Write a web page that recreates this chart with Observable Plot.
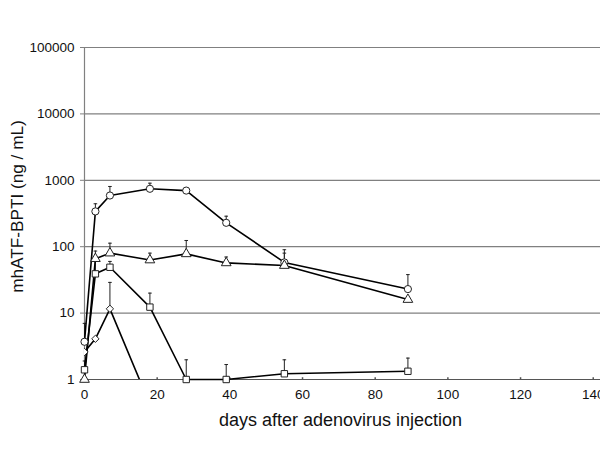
<!DOCTYPE html>
<html>
<head>
<meta charset="utf-8">
<script src="https://cdn.jsdelivr.net/npm/d3@7"></script>
<script src="https://cdn.jsdelivr.net/npm/@observablehq/plot@0.6"></script>
<style>
  html, body { margin: 0; padding: 0; background: #fff; overflow: hidden; }
  #chart { width: 600px; height: 449px; overflow: hidden; }
</style>
</head>
<body>
<div id="chart"></div>
<script>
// ---- data ----
const days = [0, 3, 7, 18, 28, 39, 55, 89];
const circleVals = [3.7, 340, 590, 745, 700, 229, 58, 23];
const circleErr  = [7, 443, 807, 905, 760, 288, 90, 38];
const triangleVals = [1, 66, 80, 63, 78, 57, 52, 16];
const triangleErr  = [1.5, 86, 113, 80, 124, 70, 80, null];
const squareVals = [1.4, 39, 49, 12.3, 1, 1, 1.22, 1.33];
const squareErr  = [1.9, 60, 60, 20, 1.98, 1.68, 1.98, 2.1];
const diamondDays = [0, 3, 7, 18];
const diamondVals = [2.6, 4.1, 11.6, 0.42];
const diamondErr  = [null, null, 29, null];

const xTicks = [0, 20, 40, 60, 80, 100, 120, 140];
const yTicks = [1, 10, 100, 1000, 10000, 100000];
const xLabel = "days after adenovirus injection";
const yLabel = "mhATF-BPTI (ng / mL)";

// ---- build tables ----
function series(name, symbol, xs, vals, errs) {
  return xs.map((x, i) => ({series: name, symbol, x, y: vals[i], err: errs[i]}));
}
const circles = series("circle", "circle", days, circleVals, circleErr);
const triangles = series("triangle", "triangle", days, triangleVals, triangleErr);
const squares = series("square", "square", days, squareVals, squareErr);
const diamonds = series("diamond", "diamond2", diamondDays, diamondVals, diamondErr);
const mainPts = [...circles, ...triangles, ...squares];
const allPts = [...mainPts, ...diamonds];
const errPts = allPts.filter(d => d.err != null && d.y >= 1);

const hline = {draw(ctx, size) { const r = Math.sqrt(size / Math.PI); ctx.moveTo(-r, 0); ctx.lineTo(r, 0); }};
const vtick = {draw(ctx, size) { const r = Math.sqrt(size / Math.PI); ctx.moveTo(0, 0); ctx.lineTo(0, -r); }};

const font = "'Liberation Sans', Arial, Helvetica, sans-serif";

const chart = Plot.plot({
  width: 600,
  height: 449,
  marginLeft: 84,
  marginRight: 0,
  marginTop: 47,
  marginBottom: 70,
  style: {fontFamily: font, background: "#fff", overflow: "hidden"},
  x: {domain: [0, 142], ticks: xTicks},
  y: {type: "log", domain: [1, 100000], ticks: yTicks},
  marks: [
    Plot.gridY(yTicks, {stroke: "#808080", strokeOpacity: 1, strokeWidth: 1.2}),
    Plot.ruleX([0], {stroke: "#808080", strokeWidth: 1.2}),
    Plot.ruleY([1], {stroke: "#555", strokeWidth: 1.2}),
    Plot.axisY({ticks: yTicks, tickFormat: d => String(d), tickSize: 4, tickPadding: 6,
      fontSize: 13.5, color: "#111", stroke: "#808080", label: null}),
    Plot.axisX({ticks: xTicks, tickFormat: d => String(d), tickSize: 0, tickPadding: 10,
      fontSize: 13.5, color: "#111", label: null}),
    Plot.dot(xTicks.slice(1), {x: d => d, y: () => 1, symbol: vtick, r: 2.3, stroke: "#555"}),
    // error bars
    Plot.ruleX(errPts, {x: "x", y1: "y", y2: "err", stroke: "#222", strokeWidth: 1}),
    Plot.dot(errPts, {x: "x", y: "err", symbol: hline, r: 1.8, stroke: "#222", strokeWidth: 1}),
    // lines
    Plot.line(mainPts, {x: "x", y: "y", z: "series", stroke: "#000", strokeWidth: 1.6}),
    Plot.line(diamonds, {x: "x", y: "y", stroke: "#000", strokeWidth: 1.6, clip: true}),
    // markers
    Plot.dot(mainPts, {x: "x", y: "y", symbol: "symbol", r: 3.6, stroke: "#222", fill: "#fff", strokeWidth: 1}),
    Plot.dot(diamonds, {x: "x", y: "y", symbol: "symbol", r: 3.3, stroke: "#222", fill: "#fff", strokeWidth: 1, clip: true}),
    // axis titles
    Plot.text([yLabel], {text: d => d, frameAnchor: "left", dx: -67, dy: -7, rotate: -90,
      fontSize: 17.2, fill: "#111", textAnchor: "middle", lineAnchor: "middle"}),
    Plot.text([xLabel], {text: d => d, frameAnchor: "bottom", dx: -2, dy: 41,
      fontSize: 18, fill: "#111", textAnchor: "middle", lineAnchor: "middle"})
  ]
});
document.getElementById("chart").appendChild(chart);
</script>
</body>
</html>
